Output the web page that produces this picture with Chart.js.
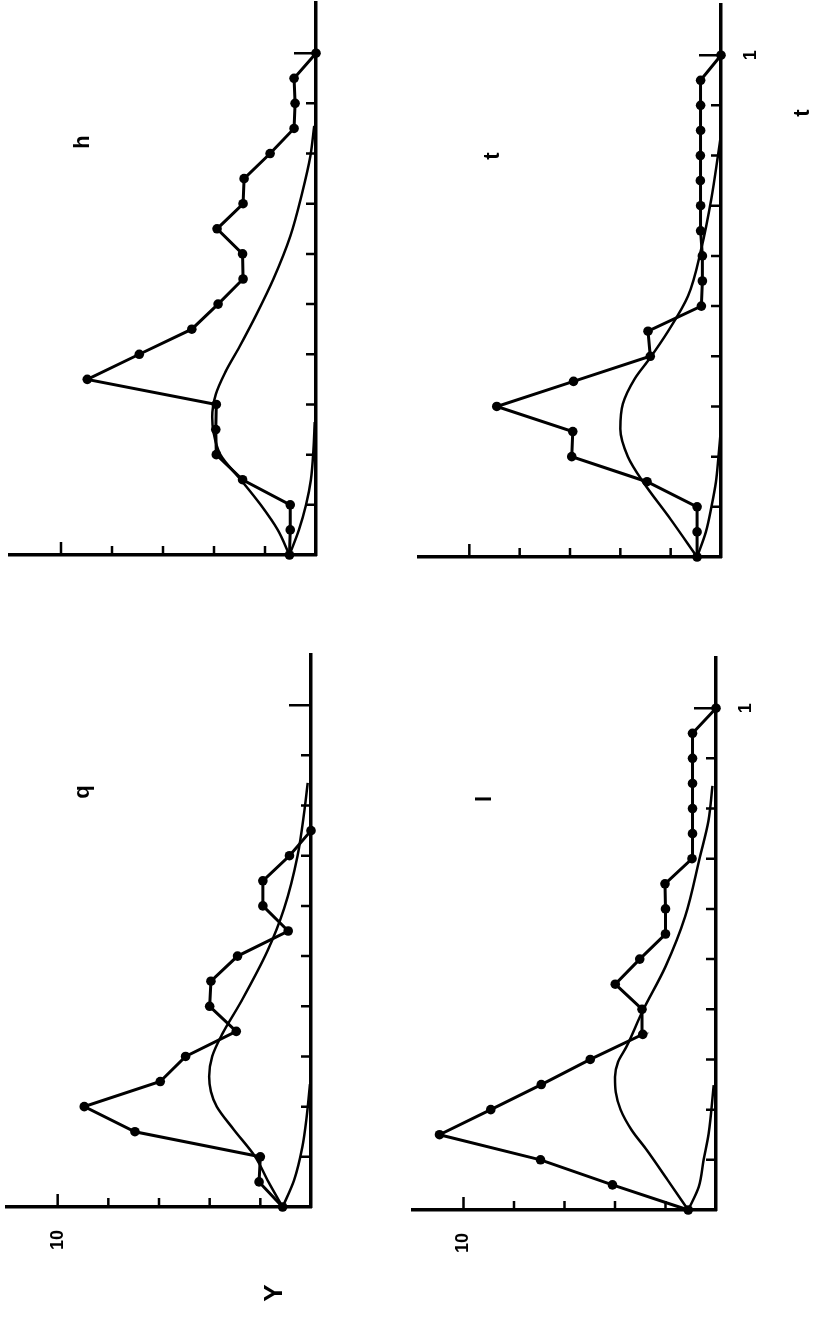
<!DOCTYPE html>
<html>
<head>
<meta charset="utf-8">
<script src="https://cdn.jsdelivr.net/npm/chart.js@4.4.1/dist/chart.umd.min.js"></script>
<style>
  html, body { margin: 0; padding: 0; background: #fff; }
  canvas { position: absolute; left: 0; top: 0; }
</style>
</head>
<body>
<canvas id="panelH" width="813" height="1317"></canvas>
<canvas id="panelT" width="813" height="1317"></canvas>
<canvas id="panelQ" width="813" height="1317"></canvas>
<canvas id="panelL" width="813" height="1317"></canvas>
<script>
// tiempo (eje vertical, 0..1) y valores Y (eje horizontal, crece hacia la izquierda)
const tiempos = [0, 0.05, 0.1, 0.15, 0.2, 0.25, 0.3, 0.35, 0.4, 0.45, 0.5, 0.55, 0.6, 0.65, 0.7, 0.75, 0.8, 0.85, 0.9, 0.95, 1];
const marcasValor = [2, 4, 6, 8, 10];
const marcasTiempo = [0.1, 0.2, 0.3, 0.4, 0.5, 0.6, 0.7, 0.8, 0.9, 1];

// panel h (arriba izquierda)
const datosH = [1.04, 1.01, 1.01, 2.88, 3.91, 3.93, 3.91, 8.97, 6.93, 4.87, 3.84, 2.86, 2.88, 3.88, 2.86, 2.82, 1.80, 0.86, 0.82, 0.86, 0];
const curvaH_t = [0, 0.05, 0.1, 0.15, 0.2, 0.245, 0.275, 0.32, 0.365, 0.415, 0.48, 0.55, 0.635, 0.72, 0.795, 0.855];
const curvaH_y = [1.04, 1.5, 2.17, 2.95, 3.75, 4.02, 4.07, 3.93, 3.55, 3.0, 2.33, 1.67, 1.01, 0.55, 0.22, 0.07];
const bajaH_t = [0, 0.05, 0.1, 0.15, 0.21, 0.265];
const bajaH_y = [1.04, 0.67, 0.39, 0.2, 0.1, 0.05];

// panel t (arriba derecha)
const datosT = [0.95, 0.95, 0.95, 2.94, 5.93, 5.89, 8.91, 5.86, 2.81, 2.9, 0.78, 0.74, 0.74, 0.81, 0.81, 0.82, 0.82, 0.81, 0.81, 0.81, 0];
const curvaT_t = [0, 0.075, 0.15, 0.2, 0.255, 0.305, 0.355, 0.395, 0.45, 0.52, 0.615, 0.715, 0.8, 0.835];
const curvaT_y = [0.95, 2.0, 3.1, 3.7, 4.0, 3.9, 3.43, 2.84, 2.1, 1.31, 0.78, 0.38, 0.12, 0.02];
const bajaT_t = [0, 0.05, 0.1, 0.15, 0.2, 0.24];
const bajaT_y = [0.95, 0.6, 0.38, 0.2, 0.1, 0.03];

// panel q (abajo izquierda)
const datosQ = [1.12, 2.05, 2.0, 6.95, 8.95, 5.95, 4.95, 2.95, 4.0, 3.95, 2.9, 0.9, 1.9, 1.9, 0.85, 0];
const curvaQ_t = [0, 0.05, 0.1, 0.155, 0.2, 0.23, 0.26, 0.3, 0.345, 0.41, 0.51, 0.595, 0.7, 0.79, 0.845];
const curvaQ_y = [1.12, 1.68, 2.2, 3.06, 3.72, 3.95, 4.02, 3.9, 3.5, 2.75, 1.72, 1.06, 0.53, 0.26, 0.13];
const bajaQ_t = [0, 0.053, 0.12, 0.18, 0.245];
const bajaQ_y = [1.12, 0.67, 0.34, 0.17, 0.04];

// panel l (abajo derecha)
const datosL = [1.1, 4.1, 6.95, 10.95, 8.92, 6.92, 4.98, 2.9, 2.93, 3.99, 3.02, 2.0, 2.0, 2.02, 0.95, 0.93, 0.93, 0.93, 0.93, 0.93, 0];
const curvaL_t = [0, 0.06, 0.12, 0.16, 0.2, 0.235, 0.265, 0.295, 0.325, 0.395, 0.485, 0.585, 0.705, 0.775, 0.845];
const curvaL_y = [1.1, 1.92, 2.75, 3.35, 3.78, 3.97, 4.0, 3.88, 3.55, 2.92, 2.0, 1.22, 0.63, 0.3, 0.14];
const bajaL_t = [0, 0.0465, 0.1, 0.1525, 0.249];
const bajaL_y = [1.1, 0.68, 0.49, 0.29, 0.09];

const ANCHO = 813, ALTO = 1317;

function unir(ts, vs) {
    return vs.map((v, i) => ({ x: v, y: ts[i] }));
}

function textoGirado(ctx, s, x, y, size) {
    ctx.save();
    ctx.translate(x, y);
    ctx.rotate(-Math.PI / 2);
    ctx.font = 'bold ' + size + 'px "Liberation Sans", Arial, sans-serif';
    ctx.textAlign = 'center';
    ctx.textBaseline = 'middle';
    ctx.fillStyle = '#000';
    ctx.fillText(s, 0, 0);
    ctx.restore();
}

function crearPanel(id, caja, datos, tDatos, curvaT, curvaY, bajaT, bajaY, textos, conDiez, conUno) {
    const marcas = {
        id: 'marcas',
        afterDraw(chart) {
            const ctx = chart.ctx;
            const xs = chart.scales.x, ys = chart.scales.y;
            const a = chart.chartArea;
            ctx.save();
            ctx.strokeStyle = '#000';
            ctx.lineWidth = 2.5;
            ctx.beginPath();
            marcasValor.forEach(v => {
                const px = xs.getPixelForValue(v);
                ctx.moveTo(px, a.bottom);
                ctx.lineTo(px, a.bottom - (v === 10 ? 13 : 9));
            });
            marcasTiempo.forEach(t => {
                const py = ys.getPixelForValue(t);
                ctx.moveTo(a.right, py);
                ctx.lineTo(a.right - (t === 1 ? 22 : 10), py);
            });
            ctx.stroke();
            ctx.restore();

            if (conDiez) textoGirado(ctx, '10', xs.getPixelForValue(10), a.bottom + 33, 18);
            if (conUno) textoGirado(ctx, '1', a.right + 30, ys.getPixelForValue(1), 18);
            textos.forEach(tx => textoGirado(ctx, tx.s, tx.x, tx.y, tx.size));
        }
    };

    new Chart(document.getElementById(id), {
        type: 'line',
        data: {
            datasets: [
                {
                    data: unir(tDatos, datos),
                    borderColor: '#000',
                    borderWidth: 3,
                    pointRadius: 4.8,
                    pointBackgroundColor: '#000',
                    pointBorderWidth: 0,
                    tension: 0,
                    clip: false
                },
                {
                    data: unir(curvaT, curvaY),
                    borderColor: '#000',
                    borderWidth: 2.5,
                    pointRadius: 0,
                    cubicInterpolationMode: 'monotone',
                    clip: false
                },
                {
                    data: unir(bajaT, bajaY),
                    borderColor: '#000',
                    borderWidth: 2.5,
                    pointRadius: 0,
                    cubicInterpolationMode: 'monotone',
                    clip: false
                }
            ]
        },
        options: {
            indexAxis: 'y',
            responsive: false,
            animation: false,
            devicePixelRatio: 1,
            events: [],
            layout: {
                autoPadding: false,
                padding: { left: caja.izq, right: ANCHO - caja.der, top: caja.arriba, bottom: ALTO - caja.abajo }
            },
            plugins: { legend: { display: false }, tooltip: { enabled: false } },
            scales: {
                x: {
                    type: 'linear', reverse: true, min: 0, max: 12,
                    grid: { display: false, drawTicks: false },
                    ticks: { display: false },
                    border: { display: true, color: '#000', width: 3.5 },
                    afterFit(s) { s.height = 0; }
                },
                y: {
                    type: 'linear', position: 'right', min: 0, max: 1.1,
                    grid: { display: false, drawTicks: false },
                    ticks: { display: false },
                    border: { display: true, color: '#000', width: 3.5 },
                    afterFit(s) { s.width = 0; }
                }
            }
        },
        plugins: [marcas]
    });
}

crearPanel('panelH', { izq: 10, der: 316, arriba: 3, abajo: 555 },
    datosH, tiempos, curvaH_t, curvaH_y, bajaH_t, bajaH_y,
    [{ s: 'h', x: 83, y: 142, size: 22 }], false, false);

crearPanel('panelT', { izq: 419, der: 721, arriba: 5, abajo: 557 },
    datosT, tiempos, curvaT_t, curvaT_y, bajaT_t, bajaT_y,
    [{ s: 't', x: 493, y: 156, size: 22 }, { s: 't', x: 803, y: 113, size: 22 }], false, true);

crearPanel('panelQ', { izq: 7, der: 311, arriba: 655, abajo: 1207 },
    datosQ, tiempos.slice(0, datosQ.length), curvaQ_t, curvaQ_y, bajaQ_t, bajaQ_y,
    [{ s: 'q', x: 83, y: 792, size: 22 }, { s: 'Y', x: 275, y: 1293, size: 26 }], true, false);

crearPanel('panelL', { izq: 413, der: 716, arriba: 658, abajo: 1210 },
    datosL, tiempos, curvaL_t, curvaL_y, bajaL_t, bajaL_y,
    [{ s: 'l', x: 485, y: 799, size: 22 }], true, true);
</script>
</body>
</html>
